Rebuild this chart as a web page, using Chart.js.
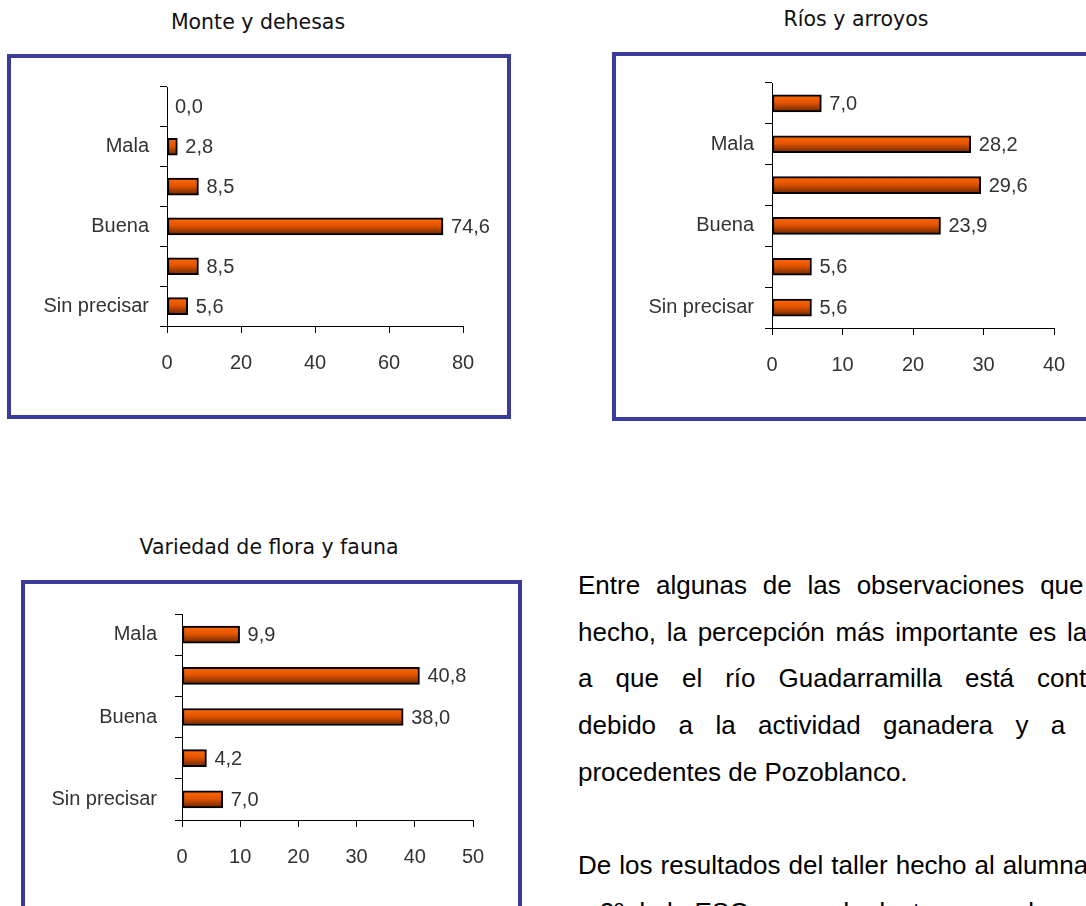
<!DOCTYPE html>
<html>
<head>
<meta charset="utf-8">
<script src="https://cdn.jsdelivr.net/npm/chart.js@4/dist/chart.umd.min.js"></script>
<style>
html, body { margin: 0; padding: 0; width: 1086px; height: 906px; overflow: hidden; background: #fff; }
.title { position: absolute; width: 400px; text-align: center; font-family: "DejaVu Sans", sans-serif; font-size: 20.5px; color: #111; }
.box { position: absolute; border: 4px solid #3b3b9e; box-sizing: border-box; background: #fff; }
.box canvas { position: absolute; left: 0; top: 0; }
.txt { position: absolute; left: 578px; width: 608px; font-family: "Liberation Sans", Arial, sans-serif; font-size: 26px; color: #000; }
.txt div { height: 46.7px; line-height: 46.7px; text-align: justify; text-align-last: justify; }
.txt div.last { text-align-last: left; }
</style>
</head>
<body>

<div class="title" style="left:58px; top:10px;">Monte y dehesas</div>
<div class="box" style="left:7px; top:54px; width:504px; height:365px;">
  <canvas id="monte" width="496" height="357"></canvas>
</div>

<div class="title" style="left:656px; top:7px;">Ríos y arroyos</div>
<div class="box" style="left:612px; top:52px; width:560px; height:369px;">
  <canvas id="rios" width="470" height="361"></canvas>
</div>

<div class="title" style="left:69px; top:535px;">Variedad de flora y fauna</div>
<div class="box" style="left:21px; top:580px; width:501px; height:400px;">
  <canvas id="flora" width="493" height="322"></canvas>
</div>

<div class="txt" style="top:562px;">
  <div>Entre algunas de las observaciones que se han</div>
  <div>hecho, la percepción más importante es la referida</div>
  <div>a que el río Guadarramilla está contaminado</div>
  <div>debido a la actividad ganadera y a residuos</div>
  <div class="last">procedentes de Pozoblanco.</div>
  <div class="last">&nbsp;</div>
  <div>De los resultados del taller hecho al alumnado de 1º</div>
  <div class="last">a 2º de la ESO se puede destacar que la mayoría</div>
</div>

<script>
// Monte y dehesas
const catsMonte = ['', 'Mala', '', 'Buena', '', 'Sin precisar'];
const valsMonte = [0.0, 2.8, 8.5, 74.6, 8.5, 5.6];
const ticksMonte = [0, 20, 40, 60, 80];

// Ríos y arroyos
const catsRios = ['', 'Mala', '', 'Buena', '', 'Sin precisar'];
const valsRios = [7.0, 28.2, 29.6, 23.9, 5.6, 5.6];
const ticksRios = [0, 10, 20, 30, 40];

// Variedad de flora y fauna
const catsFlora = ['Mala', '', 'Buena', '', 'Sin precisar'];
const valsFlora = [9.9, 40.8, 38.0, 4.2, 7.0];
const ticksFlora = [0, 10, 20, 30, 40, 50];

const FONT = '"Liberation Sans", Arial, sans-serif';
const BAR_H = 17;

// values written to the right of each bar, with a decimal comma
const valueLabels = {
    id: 'valueLabels',
    afterDatasetsDraw(chart) {
        const ctx = chart.ctx;
        const meta = chart.getDatasetMeta(0);
        const vals = chart.data.datasets[0].data;
        ctx.save();
        ctx.font = '20px ' + FONT;
        ctx.fillStyle = '#333';
        ctx.textBaseline = 'middle';
        ctx.textAlign = 'left';
        meta.data.forEach((bar, i) => {
            ctx.fillText(vals[i].toFixed(1).replace('.', ','), bar.x + 8, bar.y + 1);
        });
        ctx.restore();
    }
};

function barFill(ctx) {
    const y = ctx.chart.scales && ctx.chart.scales.y;
    if (!y || ctx.type !== 'data') return '#d85200';
    const c = y.getPixelForValue(ctx.dataIndex);
    if (!isFinite(c)) return '#d85200';
    const g = ctx.chart.ctx.createLinearGradient(0, c - BAR_H / 2, 0, c + BAR_H / 2);
    g.addColorStop(0, '#ff6a00');
    g.addColorStop(0.45, '#e35400');
    g.addColorStop(1, '#6a2600');
    return g;
}

// g: plot area inside the canvas (left, right, top, bottom), yPad: gap label/tick
function makeChart(id, cats, vals, ticks, g, yPad) {
    const canvas = document.getElementById(id);
    const step = ticks[1] - ticks[0];
    return new Chart(canvas, {
        type: 'bar',
        data: {
            labels: cats,
            datasets: [{
                data: vals,
                backgroundColor: barFill,
                borderColor: '#000',
                borderWidth: 2,
                borderSkipped: false,
                barThickness: BAR_H,
            }]
        },
        options: {
            indexAxis: 'y',
            responsive: false,
            animation: false,
            devicePixelRatio: 1,
            layout: {
                padding: { left: 0, top: g.top, right: canvas.width - g.right, bottom: canvas.height - g.bottom - 50 }
            },
            scales: {
                x: {
                    min: ticks[0],
                    max: ticks[ticks.length - 1],
                    ticks: { stepSize: step, padding: 18, color: '#333', font: { family: FONT, size: 20 } },
                    grid: { drawOnChartArea: false, drawTicks: true, tickLength: 7, color: '#000' },
                    border: { display: true, color: '#000', width: 1 },
                    afterFit: s => { s.height = 50; }
                },
                y: {
                    ticks: { padding: yPad, color: '#333', font: { family: FONT, size: 20 } },
                    grid: { drawOnChartArea: false, drawTicks: true, tickLength: 7, color: '#000', offset: true },
                    border: { display: true, color: '#000', width: 1 },
                    afterFit: s => { s.width = g.left; }
                }
            },
            plugins: {
                legend: { display: false },
                tooltip: { enabled: false }
            }
        },
        plugins: [valueLabels]
    });
}

makeChart('monte', catsMonte, valsMonte, ticksMonte, { left: 156, right: 452, top: 29, bottom: 268 }, 11);
makeChart('rios', catsRios, valsRios, ticksRios, { left: 156, right: 438, top: 27, bottom: 272 }, 11);
makeChart('flora', catsFlora, valsFlora, ticksFlora, { left: 157, right: 448, top: 29, bottom: 236 }, 18);
</script>
</body>
</html>
